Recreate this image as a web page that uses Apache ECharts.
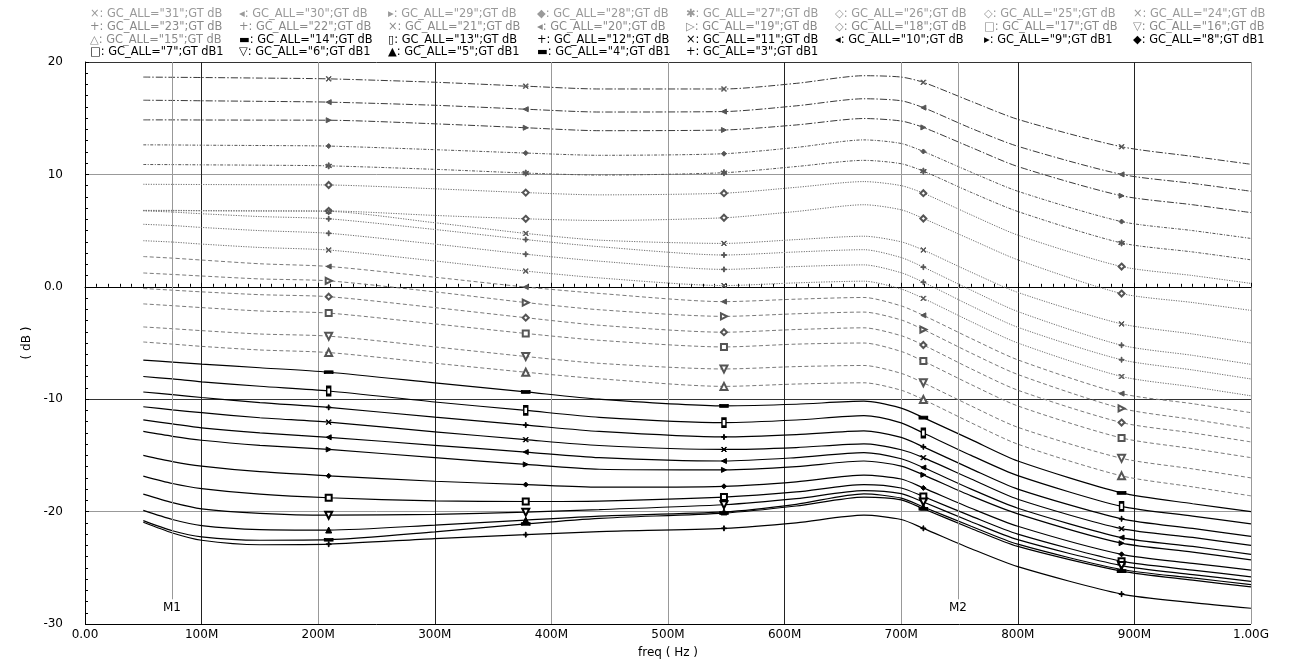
<!DOCTYPE html>
<html><head><meta charset="utf-8">
<script src="https://cdn.jsdelivr.net/npm/echarts@6/dist/echarts.min.js"></script>
<style>html,body{margin:0;padding:0;background:#fff}#c{width:1291px;height:664px}</style>
</head><body><div id="c"></div>
<script>
// ---------- data ----------
const FREQ = [50,75,100,150,209,300,378,441,548,610,668,700,719,760,800,889,950,1000]; // MHz
const MARKER_FREQ = [209,378,548,719,889];
const GC_ALL = [31,30,29,28,27,26,25,24,23,22,21,20,19,18,17,16,15,14,13,12,11,10,9,8,7,6,5,4,3];
const GC31 = [18.66,18.64,18.62,18.57,18.5,18.2,17.85,17.6,17.6,18.1,18.78,18.66,18.19,16.5,14.9,12.46,11.6,10.9];
const GC30 = [16.6,16.58,16.55,16.5,16.43,16.15,15.8,15.55,15.59,16.1,16.73,16.55,15.94,14.1,12.5,10.0,9.2,8.5];
const GC29 = [14.85,14.85,14.84,14.83,14.82,14.5,14.15,13.89,13.95,14.4,14.97,14.75,14.18,12.4,10.7,8.1,7.3,6.6];
const GC28 = [12.63,12.62,12.6,12.57,12.52,12.2,11.9,11.7,11.84,12.4,13.07,12.75,12.04,10.2,8.5,5.8,5.0,4.3];
const GC27 = [10.88,10.87,10.85,10.82,10.76,10.45,10.12,9.94,10.15,10.7,11.25,10.95,10.29,8.4,6.7,3.9,3.1,2.4];
const GC26 = [9.12,9.11,9.1,9.08,9.06,8.72,8.38,8.18,8.33,8.85,9.36,9.0,8.33,6.4,4.6,1.8,1.0,0.3];
const GC25 = [6.8,6.8,6.78,6.76,6.75,6.35,6.05,5.9,6.14,6.7,7.3,6.85,6.08,4.2,2.4,-0.6,-1.4,-2.1];
const GC24 = [6.78,6.77,6.76,6.74,6.71,5.7,4.75,4.15,3.86,4.2,4.5,4.0,3.27,1.3,-0.5,-3.3,-4.2,-5.0];
const GC23 = [6.76,6.65,6.5,6.25,6.05,5.1,4.2,3.57,2.83,3.1,3.3,2.6,1.75,-0.3,-2.2,-5.2,-6.1,-6.9];
const GC22 = [5.56,5.45,5.28,5.0,4.76,3.8,2.9,2.28,1.55,1.8,1.95,1.25,0.41,-1.7,-3.6,-6.49,-7.4,-8.2];
const GC21 = [4.1,3.98,3.8,3.5,3.27,2.3,1.4,0.79,0.11,0.35,0.5,-0.2,-1.03,-3.1,-5.0,-7.98,-8.9,-9.7];
const GC20 = [2.69,2.55,2.38,2.05,1.81,0.85,-0.02,-0.59,-1.32,-1.1,-0.95,-1.7,-2.54,-4.6,-6.5,-9.5,-10.4,-11.2];
const GC19 = [1.23,1.1,0.96,0.7,0.53,-0.45,-1.4,-2.04,-2.63,-2.4,-2.25,-2.95,-3.8,-5.9,-7.8,-10.82,-11.8,-12.6];
const GC18 = [-0.15,-0.3,-0.45,-0.7,-0.88,-1.85,-2.75,-3.42,-4.04,-3.8,-3.65,-4.35,-5.18,-7.3,-9.2,-12.08,-13.0,-13.8];
const GC17 = [-1.52,-1.68,-1.85,-2.15,-2.34,-3.3,-4.15,-4.76,-5.35,-5.1,-5.0,-5.75,-6.61,-8.7,-10.6,-13.45,-14.4,-15.2];
const GC16 = [-3.57,-3.73,-3.9,-4.2,-4.39,-5.35,-6.2,-6.81,-7.31,-7.1,-7.0,-7.7,-8.54,-10.6,-12.5,-15.26,-16.2,-17.0];
const GC15 = [-4.91,-5.1,-5.3,-5.62,-5.85,-6.8,-7.6,-8.18,-8.86,-8.65,-8.54,-9.2,-10.03,-12.1,-14.0,-16.82,-17.8,-18.6];
const GC14 = [-6.52,-6.7,-6.88,-7.2,-7.6,-8.54,-9.35,-10.0,-10.59,-10.45,-10.18,-10.8,-11.64,-13.6,-15.5,-18.33,-19.3,-20.0];
const GC13 = [-7.98,-8.2,-8.45,-8.85,-9.27,-10.25,-11.0,-11.61,-12.08,-11.85,-11.47,-12.1,-13.01,-15.0,-16.8,-19.54,-20.4,-21.1];
const GC12 = [-9.36,-9.6,-9.85,-10.3,-10.73,-11.6,-12.3,-12.87,-13.36,-13.15,-12.81,-13.4,-14.24,-16.2,-18.0,-20.64,-21.5,-22.2];
const GC11 = [-10.67,-10.95,-11.2,-11.65,-12.04,-12.9,-13.6,-14.12,-14.47,-14.3,-13.97,-14.5,-15.2,-17.1,-18.9,-21.52,-22.3,-23.0];
const GC10 = [-11.84,-12.2,-12.55,-13.0,-13.39,-14.1,-14.7,-15.2,-15.5,-15.2,-14.76,-15.3,-16.08,-18.0,-19.7,-22.31,-23.1,-23.8];
const GC9  = [-12.87,-13.3,-13.65,-14.1,-14.47,-15.2,-15.8,-16.23,-16.29,-16.0,-15.5,-15.95,-16.73,-18.6,-20.2,-22.81,-23.6,-24.3];
const GC8  = [-15.0,-15.55,-15.95,-16.45,-16.82,-17.3,-17.6,-17.83,-17.75,-17.35,-16.75,-17.1,-17.89,-19.7,-21.3,-23.8,-24.6,-25.2];
const GC7  = [-16.84,-17.5,-17.95,-18.45,-18.77,-19.05,-19.1,-19.06,-18.71,-18.25,-17.6,-17.9,-18.66,-20.4,-22.0,-24.41,-25.2,-25.8];
const GC6  = [-18.45,-19.2,-19.75,-20.15,-20.32,-20.25,-20.05,-19.82,-19.39,-18.85,-18.13,-18.4,-19.15,-20.9,-22.5,-24.8,-25.6,-26.2];
const GC5  = [-19.89,-20.7,-21.25,-21.6,-21.64,-21.2,-20.75,-20.4,-20.03,-19.35,-18.42,-18.8,-19.59,-21.3,-22.9,-25.15,-25.9,-26.5];
const GC4  = [-20.8,-21.7,-22.25,-22.55,-22.5,-21.8,-21.1,-20.6,-20.13,-19.5,-18.71,-18.95,-19.75,-21.5,-23.1,-25.3,-26.1,-26.7];
const GC3  = [-20.95,-21.9,-22.55,-22.95,-22.9,-22.4,-22.05,-21.78,-21.49,-21.0,-20.32,-20.7,-21.49,-23.3,-24.9,-27.34,-28.1,-28.6];
const SERIES_VALUES = [GC31,GC30,GC29,GC28,GC27,GC26,GC25,GC24,GC23,GC22,GC21,GC20,GC19,GC18,GC17,GC16,GC15,GC14,GC13,GC12,GC11,GC10,GC9,GC8,GC7,GC6,GC5,GC4,GC3];
const MARKER_KIND = ['cross','triL','triR','diamond','star','emptyDiamond','emptyDiamond','cross','plus','plus','cross','triL','emptyTriR','emptyDiamond','emptyRect','emptyTriDown','emptyTriangle',
  'bar','tallRect','plus','cross','triL','triR','diamond','emptyRect','emptyTriDown','triangle','bar','plus'];
const X_TICK_LABELS = ['0.00','100M','200M','300M','400M','500M','600M','700M','800M','900M','1.00G'];
const Y_TICK_LABELS = {'-30':'-30','-20':'-20','-10':'-10','0':'0.0','10':'10','20':'20'};
const CURSORS = [{name:'M1', freq:74.6}, {name:'M2', freq:748.7}];

// ---------- styles ----------
const FONT = 'DejaVu Sans, Liberation Sans, sans-serif';
const LEGEND_FONT = 'DejaVu Sans, Liberation Sans, sans-serif';
const SYM = {
  cross: {s:'path://M0,1L1,0L5,4L9,0L10,1L6,5L10,9L9,10L5,6L1,10L0,9L4,5Z', size:5, rot:0, glyph:'\u00d7'},
  plus: {s:'path://M4.2,0H5.8V4.2H10V5.8H5.8V10H4.2V5.8H0V4.2H4.2Z', size:5, rot:0, glyph:'+'},
  triL: {s:'triangle', size:5, rot:90, glyph:'\u25c2'},
  triR: {s:'triangle', size:5, rot:-90, glyph:'\u25b8'},
  emptyTriR: {s:'emptyTriangle', size:6, rot:-90, glyph:'\u25b7'},
  diamond: {s:'diamond', size:5, rot:0, glyph:'\u25c6'},
  emptyDiamond: {s:'emptyDiamond', size:6, rot:0, glyph:'\u25c7'},
  star: {s:'path://M4.3,0H5.7V3.8L9,1.9L9.7,3.1L6.4,5L9.7,6.9L9,8.1L5.7,6.2V10H4.3V6.2L1,8.1L0.3,6.9L3.6,5L0.3,3.1L1,1.9L4.3,3.8Z', size:6, rot:0, glyph:'\u2731'},
  emptyRect: {s:'emptyRect', size:6, rot:0, glyph:'\u25a1'},
  emptyTriDown: {s:'emptyTriangle', size:7, rot:180, glyph:'\u25bd'},
  emptyTriangle: {s:'emptyTriangle', size:7, rot:0, glyph:'\u25b3'},
  triangle: {s:'triangle', size:6, rot:0, glyph:'\u25b2'},
  bar: {s:'rect', size:[8,3], rot:0, glyph:'\u25ac'},
  tallRect: {s:'emptyRect', size:[4,8], rot:0, glyph:'\u25af'}
};
function styleFor(i){
  if (i < 3) return {color:'#3a3a3a', type:[7,2,1.5,2], width:1};
  if (i < 5) return {color:'#555', type:[3,1.5,1,1.5], width:1};
  if (i < 11) return {color:'#6e6e6e', type:[1.2,1.3], width:1};
  if (i < 17) return {color:'#7a7a7a', type:[4,2.5], width:1};
  return {color:'#000', type:'solid', width:1.2};
}

const series = SERIES_VALUES.map((vals, i) => {
  const st = styleFor(i);
  const sy = SYM[MARKER_KIND[i]];
  const symColor = i < 17 ? '#555' : '#000';
  return {
    type:'line', name:'GC_ALL="'+GC_ALL[i]+'";GT dB1',
    data: FREQ.map((f, k) => [f, vals[k]]),
    smooth: 0.25,
    symbol: (v) => MARKER_FREQ.indexOf(v[0]) >= 0 ? sy.s : 'none',
    symbolSize: sy.size, symbolRotate: sy.rot,
    itemStyle:{color:symColor, borderColor:symColor, borderWidth:1},
    lineStyle:{color:st.color, type:st.type, width:st.width},
    emphasis:{disabled:true}, silent:true, z: i < 17 ? 2 : 3
  };
});
// cursor lines
series.push({
  type:'line', data:[], silent:true,
  markLine:{
    silent:true, symbol:'none', animation:false,
    lineStyle:{color:'#999', width:1, type:'solid'},
    label:{show:true, position:'start', distance:3, color:'#000', fontFamily:FONT, fontSize:12, formatter:(p)=>p.name},
    data: CURSORS.map(c => [{coord:[c.freq,-27.8], name:c.name},{coord:[c.freq,20]}])
  }
});

// legend as text block
const graphics = [];
GC_ALL.forEach((gc, i) => {
  const row = Math.floor(i/8), col = i % 8;
  const glyph = SYM[MARKER_KIND[i]].glyph;
  graphics.push({
    type:'text', left: 90 + col*149, top: 9 + row*12.6, silent:true,
    style:{text: glyph + ': GC_ALL="' + gc + '";GT dB' + (gc < 10 ? '1' : ''),
      fill: i < 17 ? (row === 0 ? '#9a9a9a' : '#8a8a8a') : '#000',
      font: '11.4px ' + LEGEND_FONT}
  });
});

const chart = echarts.init(document.getElementById('c'), null, {renderer:'canvas'});
chart.setOption({
  animation:false,
  backgroundColor:'#fff',
  grid:{left:85, right:40, top:62, bottom:32, containLabel:false},
  xAxis:{
    type:'value', min:0, max:1000, interval:100,
    name:'freq ( Hz )', nameLocation:'middle', nameGap:23,
    nameTextStyle:{color:'#000', fontFamily:FONT, fontSize:12},
    axisLine:{show:true, lineStyle:{color:'#000', width:1}},
    axisTick:{show:true, inside:true, length:4, lineStyle:{color:'#000'}},
    minorTick:{show:true, splitNumber:10, length:3, lineStyle:{color:'#000'}},
    axisLabel:{color:'#000', fontFamily:FONT, fontSize:12, margin:5,
      formatter:(v)=> X_TICK_LABELS[Math.round(v/100)]},
    splitLine:{show:true, lineStyle:{width:1, color:['#000','#222','#999','#222','#999','#999','#222','#999','#222','#222','#999']}}
  },
  yAxis:{
    type:'value', min:-30, max:20, interval:10,
    name:'( dB )', nameLocation:'middle', nameGap:50, nameRotate:90,
    nameTextStyle:{color:'#000', fontFamily:FONT, fontSize:12},
    axisLine:{show:true, lineStyle:{color:'#000', width:1}},
    axisTick:{show:true, inside:true, length:4, lineStyle:{color:'#000'}},
    minorTick:{show:true, splitNumber:10, length:3, lineStyle:{color:'#000'}},
    axisLabel:{color:'#000', fontFamily:FONT, fontSize:12, margin:22,
      formatter:(v)=> Y_TICK_LABELS[String(v)]},
    splitLine:{show:true, lineStyle:{width:1, color:['#000','#999','#333','#222','#999','#333']}}
  },
  graphic: graphics,
  series: series
});
</script></body></html>
